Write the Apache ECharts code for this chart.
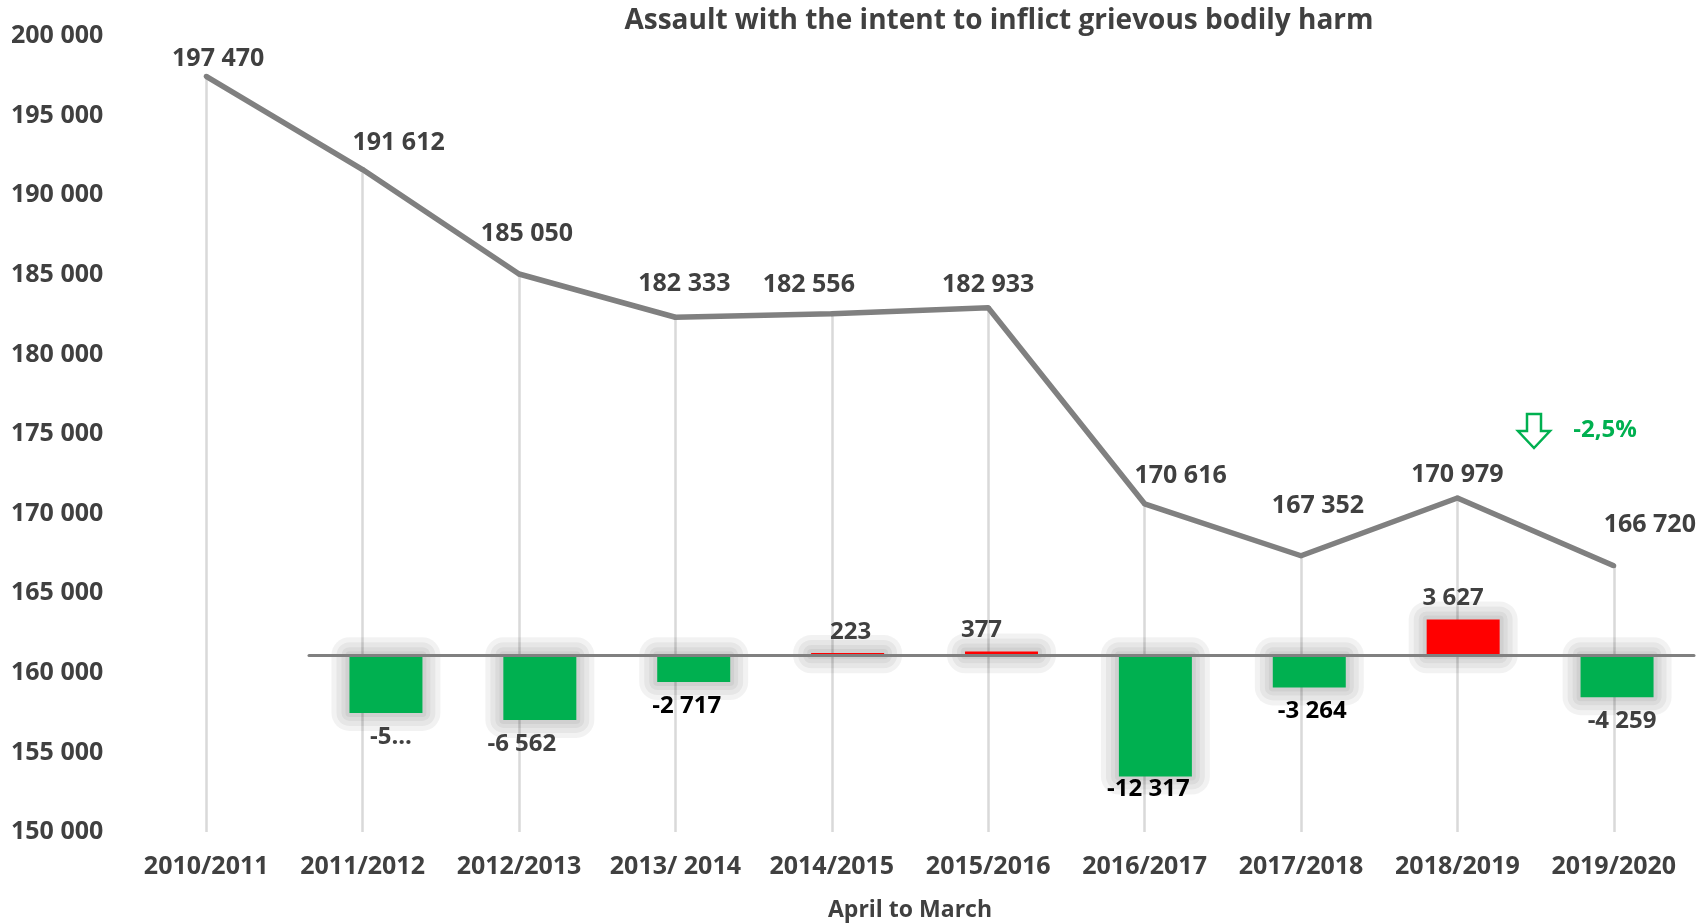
<!DOCTYPE html>
<html>
<head>
<meta charset="utf-8">
<script src="https://cdn.jsdelivr.net/npm/echarts@6/dist/echarts.min.js"></script>
<style>
  html, body { margin: 0; padding: 0; background: #fff; }
  #chart { width: 1702px; height: 923px; }
</style>
</head>
<body>
<div id="chart"></div>
<script>
// data
const years = ['2010/2011', '2011/2012', '2012/2013', '2013/ 2014', '2014/2015',
  '2015/2016', '2016/2017', '2017/2018', '2018/2019', '2019/2020']
const totals = [197470, 191612, 185050, 182333, 182556, 182933, 170616, 167352, 170979, 166720]
const changeYears = years.slice(1)
const changes = [-5858, -6562, -2717, 223, 377, -12317, -3264, 3627, -4259]
const changeLabels = ['-5...', '-6 562', '-2 717', '223', '377', '-12 317', '-3 264', '3 627', '-4 259']
const yTicks = { min: 150000, max: 200000, step: 5000 }

const FONT = 'Open Sans'
const GREY_TEXT = '#404040'
const BAR_W = 73

// label nudges (px) so the labels sit where the original put them
const lineLabelShift = [[12, -17], [36, -27], [8, -40], [9, -33], [-23, -29],
  [0, -23], [36, -28], [17, -50], [0, -23], [36, -41]]
const barLabelShift = [[5, 0], [-18, 0], [-7, 0], [3, 0], [-20, 0], [-7, -11], [3, 0], [-10, 0], [5, 0]]
const blackLabels = [2, 5, 6]

function fmt(v) {
  return String(v).replace(/\B(?=(\d{3})+(?!\d))/g, ' ')
}

const chart = echarts.init(document.getElementById('chart'))

const lineData = totals.map((v, i) => ({
  value: v,
  label: { offset: lineLabelShift[i] },
}))

const barData = changes.map((v, i) => ({
  value: v,
  itemStyle: { color: v < 0 ? '#00B050' : '#FF0000' },
  label: {
    position: v < 0 ? 'bottom' : 'top',
    distance: v < 0 ? 12 : 9,
    offset: barLabelShift[i],
    color: blackLabels.includes(i) ? '#000000' : GREY_TEXT,
  },
}))

const dropLines = totals.map((v, i) => [
  { coord: [i, v] },
  { coord: [i, yTicks.min] },
])

// soft grey glow behind each bar, built from a few translucent rounded rects
function renderGlow(params, api) {
  const zero = api.coord([api.value(0), 0])
  const end = api.coord([api.value(0), api.value(1)])
  const x = zero[0] - BAR_W / 2
  const y = Math.min(zero[1], end[1])
  const h = Math.abs(zero[1] - end[1])
  const children = [18, 13, 8, 4].map((e) => ({
    type: 'rect',
    shape: { x: x - e, y: y - e, width: BAR_W + 2 * e, height: h + 2 * e, r: e },
    style: { fill: 'rgba(0,0,0,0.05)' },
  }))
  return { type: 'group', children }
}

chart.setOption({
  animation: false,
  textStyle: { fontFamily: FONT },
  title: {
    text: 'Assault with the intent to inflict grievous bodily harm',
    left: 994,
    top: 2,
    textAlign: 'center',
    textStyle: { fontFamily: FONT, fontSize: 28, fontWeight: 'bold', color: GREY_TEXT },
  },
  grid: [
    { left: 128, right: 10, top: 36, bottom: 91, outerBoundsMode: 'none' },
    { left: 309, right: 8, top: 606, height: 197, outerBoundsMode: 'none' },
  ],
  xAxis: [
    {
      type: 'category',
      gridIndex: 0,
      data: years,
      axisLine: { show: false },
      axisTick: { show: false },
      axisLabel: {
        interval: 0,
        hideOverlap: false,
        margin: 22,
        fontFamily: FONT, fontSize: 25, fontWeight: 'bold', color: GREY_TEXT,
      },
      name: 'April to March',
      nameLocation: 'middle',
      nameGap: 67,
      nameTextStyle: { fontFamily: FONT, fontSize: 23, fontWeight: 'bold', color: GREY_TEXT },
    },
    {
      type: 'category',
      gridIndex: 1,
      data: changeYears,
      z: 10,
      axisLine: { show: true, lineStyle: { color: '#808080', width: 3 } },
      axisTick: { show: false },
      axisLabel: { show: false },
    },
  ],
  yAxis: [
    {
      type: 'value',
      gridIndex: 0,
      min: yTicks.min,
      max: yTicks.max,
      interval: yTicks.step,
      axisLine: { show: false },
      axisTick: { show: false },
      splitLine: { show: false },
      axisLabel: {
        align: 'left',
        margin: 117,
        formatter: fmt,
        fontFamily: FONT, fontSize: 25, fontWeight: 'bold', color: GREY_TEXT,
      },
    },
    {
      type: 'value',
      gridIndex: 1,
      min: -15000,
      max: 5000,
      show: false,
      splitLine: { show: false },
    },
  ],
  series: [
    {
      name: 'drop',
      type: 'line',
      xAxisIndex: 0,
      yAxisIndex: 0,
      data: totals,
      symbol: 'none',
      lineStyle: { opacity: 0 },
      silent: true,
      z: 1,
      markLine: {
        silent: true,
        z: 1,
        symbol: ['none', 'none'],
        label: { show: false },
        lineStyle: { color: '#d9d9d9', width: 2.5, type: 'solid' },
        data: dropLines,
      },
    },
    {
      name: 'glow',
      type: 'custom',
      xAxisIndex: 1,
      yAxisIndex: 1,
      data: changes.map((v, i) => [i, v]),
      renderItem: renderGlow,
      silent: true,
      clip: false,
      z: 2,
    },
    {
      name: 'Change',
      type: 'bar',
      xAxisIndex: 1,
      yAxisIndex: 1,
      data: barData,
      barWidth: BAR_W,
      z: 3,
      label: {
        show: true,
        formatter: (p) => changeLabels[p.dataIndex],
        fontFamily: FONT, fontSize: 24, fontWeight: 'bold',
      },
    },
    {
      name: 'Total',
      type: 'line',
      xAxisIndex: 0,
      yAxisIndex: 0,
      data: lineData,
      symbol: 'circle',
      symbolSize: 5,
      itemStyle: { color: '#808080' },
      lineStyle: { color: '#808080', width: 5.5 },
      z: 5,
      label: {
        show: true,
        position: 'inside',
        formatter: (p) => fmt(p.value),
        fontFamily: FONT, fontSize: 25, fontWeight: 'bold', color: GREY_TEXT,
      },
    },
  ],
  graphic: [
    {
      type: 'polygon',
      x: 1534,
      y: 431,
      shape: { points: [[-7, -17], [7, -17], [7, 0], [16, 0], [0, 17], [-16, 0], [-7, 0]] },
      style: { fill: '#ffffff', stroke: '#00B050', lineWidth: 2.5 },
    },
    {
      type: 'text',
      x: 1605,
      y: 430,
      style: {
        text: '-2,5%',
        align: 'center',
        verticalAlign: 'middle',
        fill: '#00B050',
        font: 'bold 24px "Open Sans"',
      },
    },
  ],
})

window.addEventListener('resize', () => chart.resize())
</script>
</body>
</html>
